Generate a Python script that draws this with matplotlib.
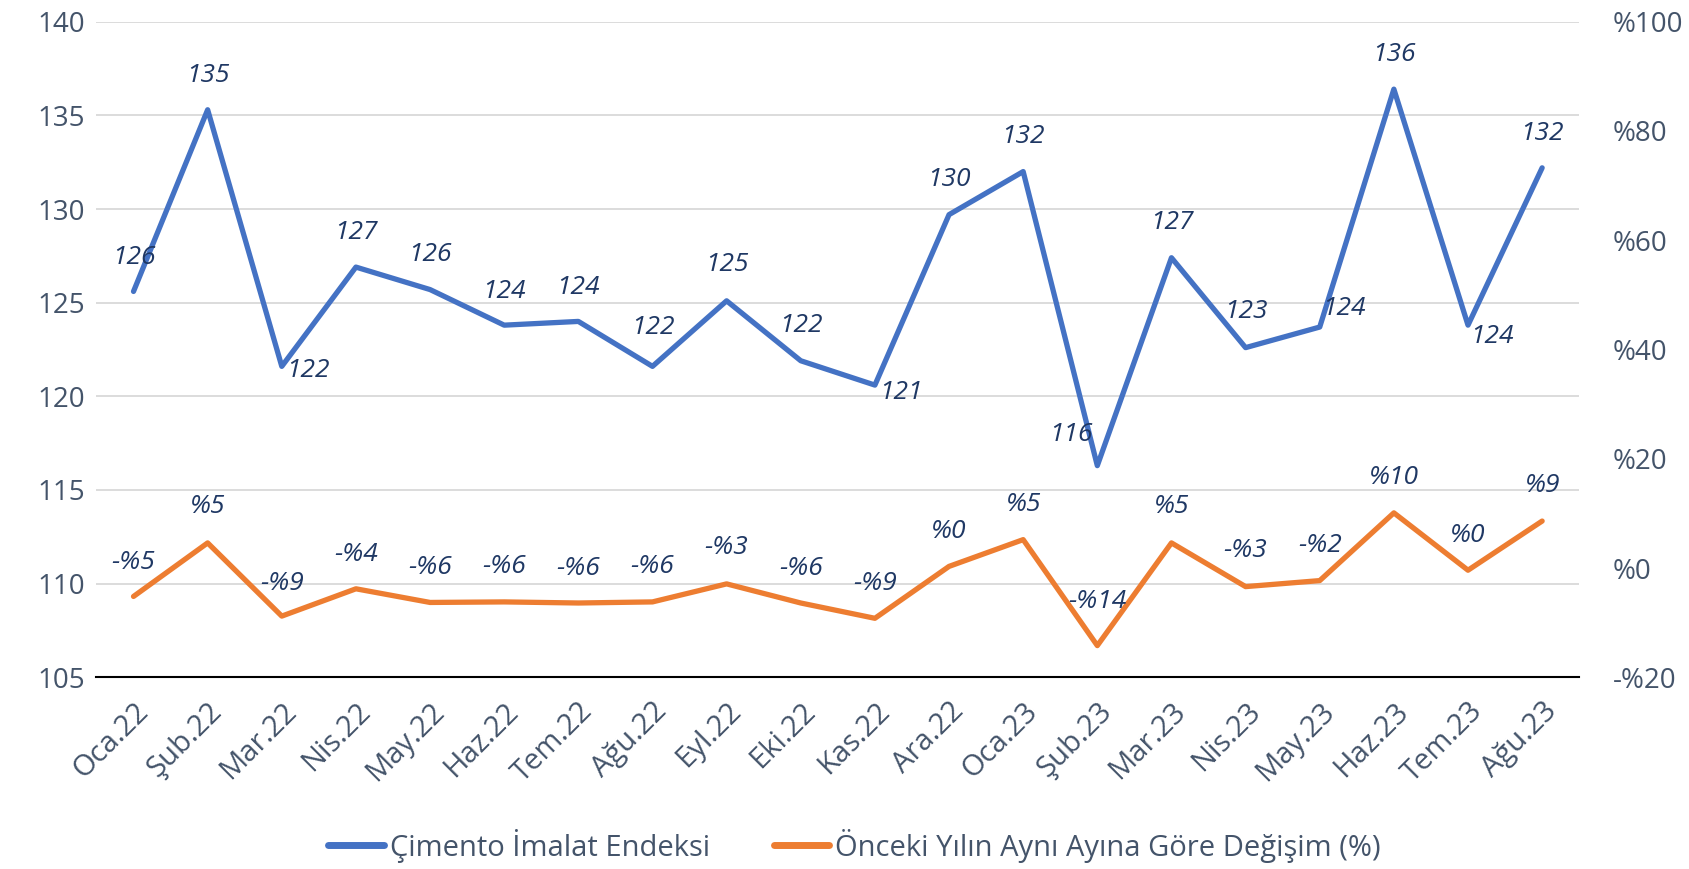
import numpy as np
import matplotlib
matplotlib.use("Agg")
import matplotlib.pyplot as plt

# -----------------------------
# 数据
# -----------------------------
months = ["Oca.22", "Şub.22", "Mar.22", "Nis.22", "May.22", "Haz.22", "Tem.22",
          "Ağu.22", "Eyl.22", "Eki.22", "Kas.22", "Ara.22", "Oca.23", "Şub.23",
          "Mar.23", "Nis.23", "May.23", "Haz.23", "Tem.23", "Ağu.23"]
index_vals = [125.6, 135.3, 121.6, 126.9, 125.7, 123.8, 124.0, 121.6, 125.1, 121.9,
              120.6, 129.7, 132.0, 116.3, 127.4, 122.6, 123.7, 136.4, 123.8, 132.2]
yoy_vals = [-5.2, 4.6, -8.8, -3.8, -6.3, -6.2, -6.4, -6.2, -2.9, -6.4,
            -9.2, 0.3, 5.2, -14.2, 4.6, -3.4, -2.3, 10.1, -0.4, 8.6]

series_names = ["Çimento İmalat Endeksi", "Önceki Yılın Aynı Ayına Göre Değişim (%)"]

# 标签偏移 (pixels)
blue_off = [(0, 34), (0, 34), (26, -4), (0, 35), (0, 35), (0, 34), (0, 34), (0, 39),
            (0, 36), (0, 35), (26, -7), (0, 35), (0, 35), (-26, 31), (0, 35), (0, 36),
            (24, 19), (0, 35), (24, -11), (0, 34)]
orange_off = [(0, 34), (0, 36), (0, 33), (0, 34), (0, 35), (0, 35), (0, 35), (0, 35),
              (0, 36), (0, 35), (0, 35), (0, 35), (0, 35), (0, 44), (0, 36), (0, 36),
              (0, 35), (0, 35), (0, 35), (0, 36)]

BLUE = "#4472C4"
ORANGE = "#ED7D31"
TICK_C = "#44546A"
LABEL_C = "#1F3864"

plt.rcParams["font.family"] = ["Open Sans", "DejaVu Sans"]


def pct_label(v):
    r = int(round(v))
    return f"-%{abs(r)}" if r < 0 else f"%{r}"


# -----------------------------
# 画图
# -----------------------------
fig = plt.figure(figsize=(16.89, 8.69), dpi=100)
ax1 = fig.add_axes([0.0571, 0.2206, 0.8779, 0.7544])
ax2 = ax1.twinx()

x = np.arange(len(months))

ax1.plot(x, index_vals, color=BLUE, lw=3.8, solid_joinstyle="round", solid_capstyle="round",
         zorder=3, label=series_names[0])
ax2.plot(x, yoy_vals, color=ORANGE, lw=3.8, solid_joinstyle="round", solid_capstyle="round",
         zorder=3, label=series_names[1])

for i, v in enumerate(index_vals):
    ax1.annotate(f"{int(round(v))}", (x[i], v), xytext=blue_off[i], textcoords="offset pixels",
                 ha="center", va="center", fontsize=19, style="italic", color=LABEL_C, zorder=4)
for i, v in enumerate(yoy_vals):
    ax2.annotate(pct_label(v), (x[i], v), xytext=orange_off[i], textcoords="offset pixels",
                 ha="center", va="center", fontsize=19, style="italic", color=LABEL_C, zorder=4)

ax1.set_xlim(-0.5, len(months) - 0.5)
ax1.set_ylim(105, 140)
ax1.set_yticks(np.arange(105, 141, 5))
ax2.set_ylim(-20, 100)
ax2.set_yticks(np.arange(-20, 101, 20))
ax2.set_yticklabels([pct_label(t) for t in np.arange(-20, 101, 20)])

ax1.set_xticks(x)
ax1.set_xticklabels(months, rotation=45, ha="right", va="top", rotation_mode="anchor")

ax1.grid(axis="y", color="#D9D9D9", lw=1.3)
ax1.set_axisbelow(True)

for ax in (ax1, ax2):
    for s in ("top", "left", "right"):
        ax.spines[s].set_visible(False)
    ax.tick_params(length=0, labelsize=20, colors=TICK_C)
ax1.tick_params(axis="x", labelsize=21)
ax2.spines["bottom"].set_visible(False)
ax1.spines["bottom"].set_color("black")
ax1.spines["bottom"].set_linewidth(1.5)
ax1.tick_params(axis="y", pad=8)
ax1.tick_params(axis="x", pad=14)
ax2.tick_params(axis="y", pad=24)

h1, l1 = ax1.get_legend_handles_labels()
h2, l2 = ax2.get_legend_handles_labels()
leg = fig.legend(h1 + h2, l1 + l2, loc="center", bbox_to_anchor=(0.506, 0.027), ncol=2,
                 frameon=False, fontsize=21, handlelength=1.9, columnspacing=2.2,
                 handletextpad=0.2)
for t in leg.get_texts():
    t.set_color(TICK_C)
for ln in leg.get_lines():
    ln.set_linewidth(5)

fig.savefig("out.png", dpi=100)
